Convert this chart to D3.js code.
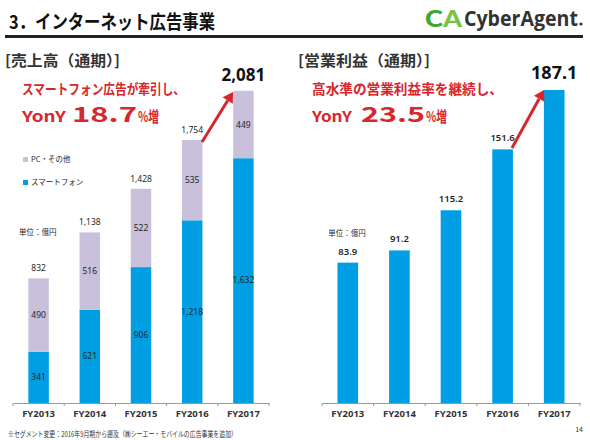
<!DOCTYPE html>
<html>
<head>
<meta charset="utf-8">
<script src="https://cdn.jsdelivr.net/npm/d3@7"></script>
<style>
  body { margin: 0; background: #fff; }
  svg { display: block; font-family: "Noto Sans CJK JP", "Noto Sans", sans-serif; }
</style>
</head>
<body>
<svg id="chart" width="590" height="440"></svg>
<script>
// data
const years = ["FY2013", "FY2014", "FY2015", "FY2016", "FY2017"];
const smartphone = [341, 621, 906, 1218, 1632];
const pcOther = [490, 516, 522, 535, 449];
const salesTotal = ["832", "1,138", "1,428", "1,754", "2,081"];
const opProfit = [83.9, 91.2, 115.2, 151.6, 187.1];

const BLUE = "#009fe3", LAVENDER = "#c9c0db", RED = "#d7262c", DARK = "#262626";

const svg = d3.select("#chart");

// header
svg.append("text").attr("x", 9).attr("y", 29)
    .attr("font-size", 19).attr("font-weight", "bold").attr("fill", "#111")
    .attr("textLength", 206).attr("lengthAdjust", "spacingAndGlyphs")
    .text("3．インターネット広告事業");
svg.append("rect").attr("x", 5).attr("y", 35).attr("width", 578).attr("height", 3).attr("fill", "#222");

// logo
svg.append("text").attr("x", 425).attr("y", 27)
    .attr("font-size", 22).attr("font-weight", 900).attr("font-family", "Lato, 'Noto Sans', sans-serif")
    .attr("textLength", 37).attr("lengthAdjust", "spacingAndGlyphs")
    .selectAll("tspan").data([["C", "#3aa935"], ["A", "#7cc242"]]).join("tspan")
    .attr("fill", d => d[1]).text(d => d[0]);
svg.append("text").attr("x", 464).attr("y", 26)
    .attr("font-size", 21).attr("font-weight", "bold").attr("fill", "#333")
    .attr("font-family", "'Open Sans', 'Noto Sans', sans-serif")
    .attr("textLength", 114).attr("lengthAdjust", "spacingAndGlyphs")
    .text("CyberAgent");
svg.append("circle").attr("cx", 581).attr("cy", 24).attr("r", 1.6).attr("fill", "#333");

function heading(x, y, txt, w) {
    svg.append("text").attr("x", x).attr("y", y)
        .attr("font-size", 15).attr("font-weight", "bold").attr("fill", "#333")
        .attr("textLength", w).attr("lengthAdjust", "spacingAndGlyphs")
        .text(txt);
}
heading(5, 66, "[売上高（通期）]", 115);
heading(298, 66, "[営業利益（通期）]", 132);

// red callout: x positions of the three pieces of line 2
function callout(x, line1, w1, pct, pieces) {
    svg.append("text").attr("x", x).attr("y", 94)
        .attr("font-size", 14).attr("font-weight", "bold").attr("fill", RED)
        .attr("textLength", w1).attr("lengthAdjust", "spacingAndGlyphs")
        .text(line1);
    const t = svg.append("text").attr("y", 122).attr("font-weight", "bold").attr("fill", RED);
    const txt = ["YonY", pct, "%増"], sizes = [15, 21, 15];
    t.selectAll("tspan").data(pieces).join("tspan")
        .attr("x", d => d[0]).attr("textLength", d => d[1]).attr("lengthAdjust", "spacingAndGlyphs")
        .attr("font-size", (d, i) => sizes[i]).text((d, i) => txt[i]);
}
callout(22, "スマートフォン広告が牽引し、", 163, "18.7", [[22, 44], [72, 65], [138, 21]]);
callout(312, "高水準の営業利益率を継続し、", 191, "23.5", [[312, 40], [361, 64], [426, 21]]);

// shared axis builder
function xAxis(x, y0) {
    const g = svg.append("g").attr("transform", `translate(0,${y0})`);
    g.call(d3.axisBottom(x).tickSize(0).tickPadding(7))
        .call(a => a.select(".domain").attr("stroke", "#999"))
        .call(a => a.selectAll("text").attr("font-size", 9.5).attr("font-weight", "bold")
            .attr("fill", "#333").attr("font-family", "'Noto Sans', sans-serif"));
    const r = x.range();
    g.selectAll(".btick").data(d3.range(years.length + 1)).join("line")
        .attr("class", "btick")
        .attr("x1", i => r[0] + i * x.step()).attr("x2", i => r[0] + i * x.step())
        .attr("y1", 0).attr("y2", 3).attr("stroke", "#999");
}

function arrow(x1, y1, x2, y2) {
    const ang = Math.atan2(y2 - y1, x2 - x1);
    const L = 10, W = 6;
    const bx = x2 - L * Math.cos(ang), by = y2 - L * Math.sin(ang);
    svg.append("line").attr("x1", x1).attr("y1", y1).attr("x2", bx).attr("y2", by)
        .attr("stroke", RED).attr("stroke-width", 3);
    const px = -Math.sin(ang) * W, py = Math.cos(ang) * W;
    svg.append("path")
        .attr("d", `M${x2},${y2}L${bx + px},${by + py}L${bx - px},${by - py}Z`)
        .attr("fill", RED);
}

const baseY = 403;

// ---- left: sales stacked ----
const xL = d3.scaleBand().domain(years).range([13, 269]).paddingInner(0.6).paddingOuter(0.3);
const yL = d3.scaleLinear().domain([0, 2200]).range([baseY, baseY - 330]);

const gL = svg.append("g");
gL.selectAll(".sp").data(years).join("rect")
    .attr("x", d => xL(d)).attr("width", xL.bandwidth())
    .attr("y", (d, i) => yL(smartphone[i])).attr("height", (d, i) => yL(0) - yL(smartphone[i]))
    .attr("fill", BLUE);
gL.selectAll(".pc").data(years).join("rect")
    .attr("x", d => xL(d)).attr("width", xL.bandwidth())
    .attr("y", (d, i) => yL(smartphone[i] + pcOther[i]))
    .attr("height", (d, i) => yL(smartphone[i]) - yL(smartphone[i] + pcOther[i]))
    .attr("fill", LAVENDER);

const small = sel => sel.attr("font-size", 8.5).attr("fill", DARK).attr("text-anchor", "middle")
    .attr("font-family", "'Noto Sans', sans-serif");

gL.selectAll(".spl").data(years).join("text").call(small)
    .attr("x", d => xL(d) + xL.bandwidth() / 2)
    .attr("y", (d, i) => i === 4 ? yL(smartphone[i]) + 125 : yL(smartphone[i] / 2) + 3)
    .text((d, i) => d3.format(",")(smartphone[i]));
gL.selectAll(".pcl").data(years).join("text").call(small)
    .attr("x", d => xL(d) + xL.bandwidth() / 2)
    .attr("y", (d, i) => yL(smartphone[i] + pcOther[i] / 2) + 3)
    .text((d, i) => pcOther[i]);
gL.selectAll(".tot").data(years.slice(0, 4)).join("text").call(small)
    .attr("x", d => xL(d) + xL.bandwidth() / 2)
    .attr("y", (d, i) => yL(smartphone[i] + pcOther[i]) - 7)
    .text((d, i) => salesTotal[i]);
svg.append("text").attr("x", xL("FY2017") + xL.bandwidth() / 2).attr("y", yL(2081) - 10)
    .attr("text-anchor", "middle").attr("font-size", 17).attr("font-weight", "bold").attr("fill", "#111")
    .attr("font-family", "'Noto Sans', sans-serif")
    .text(salesTotal[4]);

xAxis(xL, baseY);

// legend
const legend = [["PC・その他", LAVENDER], ["スマートフォン", BLUE]];
const lg = svg.selectAll(".lg").data(legend).join("g")
    .attr("transform", (d, i) => `translate(23,${157 + i * 23})`);
lg.append("rect").attr("width", 5).attr("height", 5).attr("fill", d => d[1]);
lg.append("text").attr("x", 8).attr("y", 5).attr("font-size", 7.5).attr("fill", DARK)
    .text(d => d[0]);
svg.append("text").attr("x", 19).attr("y", 235).attr("font-size", 7.5).attr("fill", DARK).text("単位：億円");

arrow(202, 142, 233, 92);

// ---- right: operating profit ----
const xR = d3.scaleBand().domain(years).range([322, 580]).paddingInner(0.6).paddingOuter(0.3);
const yR = d3.scaleLinear().domain([0, 200]).range([baseY, baseY - 334.6]);

svg.selectAll(".op").data(years).join("rect")
    .attr("x", d => xR(d)).attr("width", xR.bandwidth())
    .attr("y", (d, i) => yR(opProfit[i])).attr("height", (d, i) => yR(0) - yR(opProfit[i]))
    .attr("fill", BLUE);
svg.selectAll(".opl").data(years.slice(0, 4)).join("text")
    .attr("text-anchor", "middle").attr("font-size", 9.5).attr("font-weight", 600).attr("fill", DARK)
    .attr("font-family", "'Noto Sans', sans-serif")
    .attr("x", d => xR(d) + xR.bandwidth() / 2)
    .attr("y", (d, i) => yR(opProfit[i]) - 8)
    .text((d, i) => opProfit[i].toFixed(1));
svg.append("text").attr("x", xR("FY2017") + xR.bandwidth() / 2).attr("y", yR(187.1) - 11)
    .attr("text-anchor", "middle").attr("font-size", 18).attr("font-weight", "bold").attr("fill", "#111")
    .attr("font-family", "'Noto Sans', sans-serif")
    .text("187.1");
svg.append("text").attr("x", 347).attr("y", 236).attr("text-anchor", "middle")
    .attr("font-size", 7.5).attr("fill", DARK).text("単位：億円");

xAxis(xR, baseY);

arrow(512, 148, 544, 90);

// footer
svg.append("text").attr("x", 8).attr("y", 437).attr("font-size", 7.5).attr("fill", "#333")
    .attr("textLength", 229).attr("lengthAdjust", "spacingAndGlyphs")
    .text("※セグメント変更：2016年9月期から遡及（㈱シーエー・モバイルの広告事業を追加）");
svg.append("text").attr("x", 583).attr("y", 432).attr("text-anchor", "end")
    .attr("font-size", 7).attr("fill", "#333").text("14");
</script>
</body>
</html>
